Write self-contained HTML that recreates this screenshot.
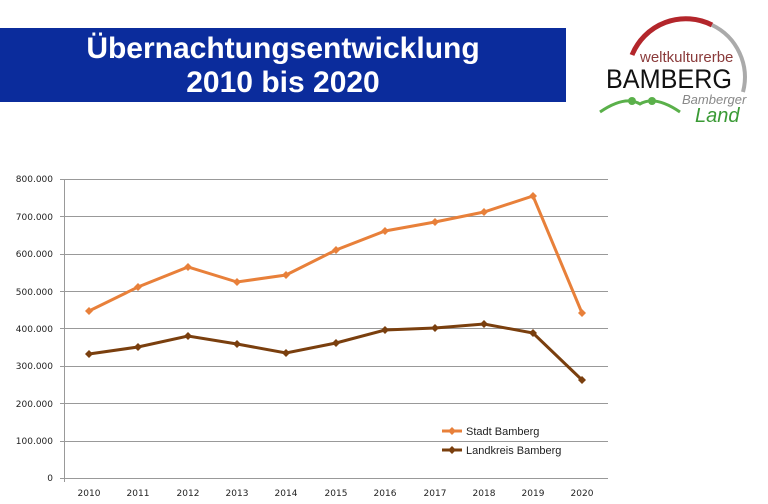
<!DOCTYPE html>
<html><head><meta charset="utf-8"><style>
body{margin:0;width:768px;height:504px;background:#fff;overflow:hidden;font-family:"Liberation Sans",sans-serif;}
.banner{position:absolute;left:0;top:28px;width:566px;height:74px;background:#0b2c9c;color:#fff;font-weight:bold;font-size:30px;text-align:center;line-height:34px;padding-top:4px;box-sizing:border-box;}
</style></head><body>
<div class="banner">Übernachtungsentwicklung<br>2010 bis 2020</div>
<svg width="768" height="504" style="position:absolute;left:0;top:0">
<defs>
<path id="dO" d="M0,-4 L4,0 L0,4 L-4,0Z" fill="#e8803a"/>
<path id="dB" d="M0,-4 L4,0 L0,4 L-4,0Z" fill="#7a3f0e"/>
</defs>
<path d="M632 55 A58 58 0 0 1 712 25" stroke="#b3262b" stroke-width="5" fill="none"/>
<path d="M712 25 A58 58 0 0 1 743 92" stroke="#aaa" stroke-width="4" fill="none"/>
<text x="640" y="62" font-size="15" fill="#8a3a3a">weltkulturerbe</text>
<text x="606" y="88" font-size="27" fill="#111" textLength="126" lengthAdjust="spacingAndGlyphs">BAMBERG</text>
<text x="682" y="104" font-size="13" fill="#888" font-style="italic">Bamberger</text>
<text x="695" y="122" font-size="20" fill="#3a9a35" font-style="italic">Land</text>
<path d="M600 112 Q625 95 640 104 Q655 95 680 112" stroke="#5ab04a" stroke-width="3" fill="none"/>
<circle cx="632" cy="101" r="4" fill="#5ab04a"/><circle cx="652" cy="101" r="4" fill="#5ab04a"/>
<g font-size="9" fill="#222" text-anchor="end" font-family="DejaVu Sans, sans-serif">
<text x="53" y="182">800.000</text><text x="53" y="220">700.000</text><text x="53" y="257">600.000</text><text x="53" y="295">500.000</text><text x="53" y="332">400.000</text><text x="53" y="369">300.000</text><text x="53" y="407">200.000</text><text x="53" y="444">100.000</text><text x="53" y="481">0</text>
</g>
<g stroke="#999" stroke-width="1">
<line x1="60" x2="608" y1="179.5" y2="179.5"/><line x1="60" x2="608" y1="216.5" y2="216.5"/><line x1="60" x2="608" y1="254.5" y2="254.5"/><line x1="60" x2="608" y1="291.5" y2="291.5"/><line x1="60" x2="608" y1="328.5" y2="328.5"/><line x1="60" x2="608" y1="366.5" y2="366.5"/><line x1="60" x2="608" y1="403.5" y2="403.5"/><line x1="60" x2="608" y1="441.5" y2="441.5"/><line x1="60" x2="608" y1="478.5" y2="478.5"/>
<line x1="64.5" x2="64.5" y1="179" y2="482"/>
</g>
<g font-size="9" fill="#222" text-anchor="middle" font-family="DejaVu Sans, sans-serif">
<text x="89" y="496">2010</text><text x="138" y="496">2011</text><text x="188" y="496">2012</text><text x="237" y="496">2013</text><text x="286" y="496">2014</text><text x="336" y="496">2015</text><text x="385" y="496">2016</text><text x="435" y="496">2017</text><text x="484" y="496">2018</text><text x="533" y="496">2019</text><text x="582" y="496">2020</text>
</g>
<polyline fill="none" stroke="#e8803a" stroke-width="3" points="89,311 138,287 188,267 237,282 286,275 336,250 385,231 435,222 484,212 533,196 582,313"/>
<polyline fill="none" stroke="#7a3f0e" stroke-width="3" points="89,354 138,347 188,336 237,344 286,353 336,343 385,330 435,328 484,324 533,333 582,380"/>
<g>
<use href="#dO" x="89" y="311"/><use href="#dO" x="138" y="287"/><use href="#dO" x="188" y="267"/><use href="#dO" x="237" y="282"/><use href="#dO" x="286" y="275"/><use href="#dO" x="336" y="250"/><use href="#dO" x="385" y="231"/><use href="#dO" x="435" y="222"/><use href="#dO" x="484" y="212"/><use href="#dO" x="533" y="196"/><use href="#dO" x="582" y="313"/>
<use href="#dB" x="89" y="354"/><use href="#dB" x="138" y="347"/><use href="#dB" x="188" y="336"/><use href="#dB" x="237" y="344"/><use href="#dB" x="286" y="353"/><use href="#dB" x="336" y="343"/><use href="#dB" x="385" y="330"/><use href="#dB" x="435" y="328"/><use href="#dB" x="484" y="324"/><use href="#dB" x="533" y="333"/><use href="#dB" x="582" y="380"/>
</g>
<line x1="442" y1="431" x2="462" y2="431" stroke="#e8803a" stroke-width="3"/><use href="#dO" x="452" y="431"/>
<text x="466" y="435" font-size="11" fill="#222">Stadt Bamberg</text>
<line x1="442" y1="450" x2="462" y2="450" stroke="#7a3f0e" stroke-width="3"/><use href="#dB" x="452" y="450"/>
<text x="466" y="454" font-size="11" fill="#222">Landkreis Bamberg</text>
</svg>
</body></html>
